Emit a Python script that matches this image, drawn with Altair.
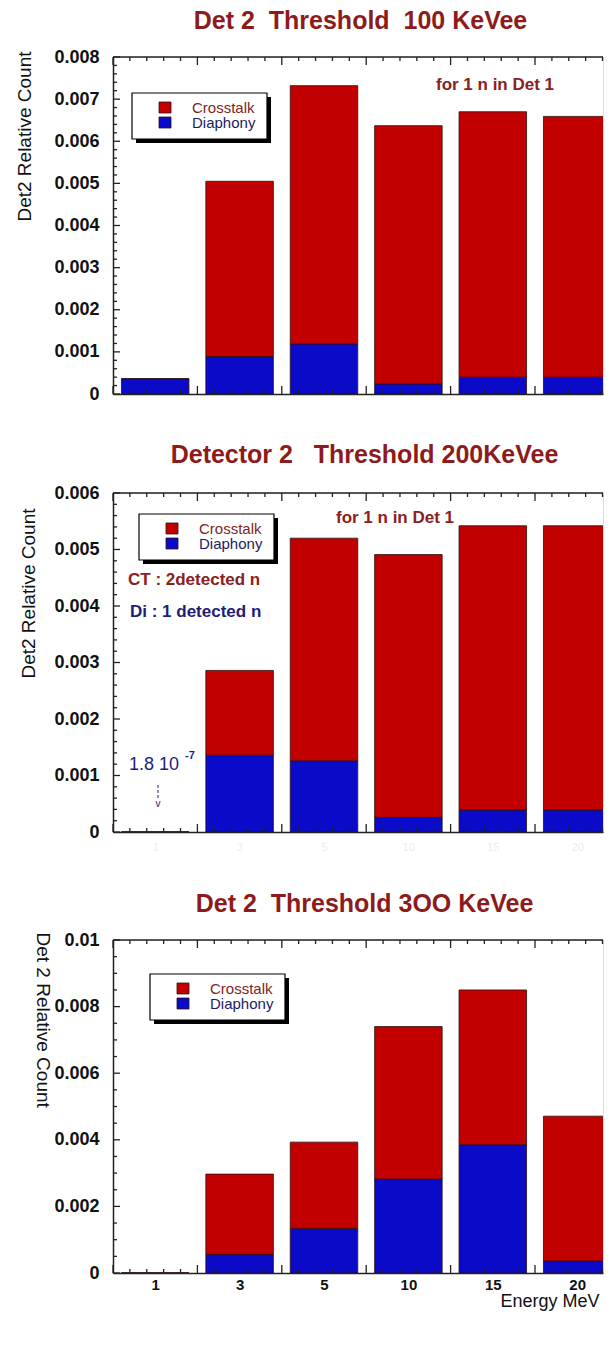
import altair as alt
import pandas as pd

# ---------------- data ----------------
energies = ["1", "3", "5", "10", "15", "20"]
series = ["Crosstalk", "Diaphony"]

panel_titles = [
    "Det 2 \u00a0Threshold \u00a0100 KeVee",
    "Detector 2 \u00a0 Threshold 200KeVee",
    "Det 2 \u00a0Threshold 3OO KeVee",
]
y_titles = ["Det2 Relative Count", "Det2 Relative Count", "Det 2 Relative Count"]
x_title = "Energy MeV"

crosstalk_100 = [0.0, 0.00416, 0.00613, 0.00613, 0.00630, 0.00619]
diaphony_100 = [0.00036, 0.00089, 0.00119, 0.00024, 0.00040, 0.00040]
crosstalk_200 = [0.0, 0.00150, 0.00394, 0.00465, 0.00503, 0.00503]
diaphony_200 = [1.8e-7, 0.00136, 0.00126, 0.00026, 0.00039, 0.00039]
crosstalk_300 = [0.0, 0.00241, 0.00259, 0.00458, 0.00465, 0.00435]
diaphony_300 = [0.0, 0.00056, 0.00134, 0.00282, 0.00385, 0.00036]

y_ticks_100 = [0, 0.001, 0.002, 0.003, 0.004, 0.005, 0.006, 0.007, 0.008]
y_ticks_200 = [0, 0.001, 0.002, 0.003, 0.004, 0.005, 0.006]
y_ticks_300 = [0, 0.002, 0.004, 0.006, 0.008, 0.01]
y_minor_per_major = [5, 5, 4]
x_minor_per_slot = 5

note_det1 = "for 1 n in Det 1"
note_ct = "CT : 2detected n"
note_di = "Di : 1 detected n"
note_value = "1.8 10"
note_exp = "-7"
note_arrow = "v"

# ---------------- style ----------------
RED = "#C20000"
BLUE = "#0A0AC8"
TITLE_RED = "#8E1B1B"
NOTE_RED = "#8A2020"
NAVY = "#1E1E78"
LABEL_COLORS = ["#7E2424", "#1C1C66"]
AX = "#222222"
FONT = "Liberation Sans"
W = 490
STEP = 84.4
XMAX = -0.5 + W / STEP
ONE = pd.DataFrame({"k": [0]})


def text_layer(txt, x, y, size, color, weight="bold", align="left", font=FONT):
    return alt.Chart(pd.DataFrame({"t": [txt]})).mark_text(
        font=font, fontSize=size, fontWeight=weight, color=color,
        align=align, baseline="middle"
    ).encode(text="t:N", x=alt.value(x), y=alt.value(y))


def make_panel(title, title_y, title_dx, ct, di, yticks, nminor, H,
               ytitle, ytitle_kw, legend_pos, extra, xaxis_kind):
    rows = []
    for k, e in enumerate(energies):
        rows.append({"energy": e, "pos": k, "series": "Diaphony", "value": di[k], "layer": 0})
        rows.append({"energy": e, "pos": k, "series": "Crosstalk", "value": ct[k], "layer": 1})
    df = pd.DataFrame(rows)

    xs = alt.Scale(domain=[-0.5, XMAX], nice=False, zero=False)
    ys = alt.Scale(domain=[0, yticks[-1]], nice=False, zero=True)
    cs = alt.Scale(domain=series, range=[RED, BLUE])

    label_expr = "[" + ",".join("'%s'" % e for e in energies) + "][datum.value]"
    common = dict(values=list(range(len(energies))), grid=False, ticks=False, tickSize=0,
                  domainColor=AX, domainWidth=1.5, labelFlush=False, labelOverlap=False)
    if xaxis_kind == "none":
        xaxis = alt.Axis(labels=False, title=None, **common)
    elif xaxis_kind == "ghost":
        xaxis = alt.Axis(labelExpr=label_expr, labelColor="#ededed", labelFont=FONT,
                         labelFontSize=11, labelPadding=9, title=None, **common)
    else:
        xaxis = alt.Axis(labelExpr=label_expr, labelColor="#111111", labelFont=FONT,
                         labelFontSize=15, labelFontWeight="bold", labelPadding=4,
                         title=x_title, titleFont=FONT, titleFontSize=18,
                         titleFontWeight="normal", titleColor="#111111",
                         titleX=486, titleY=28, titleAlign="right",
                         titleBaseline="middle", **common)

    yaxis = alt.Axis(values=yticks, format=".3~f", grid=False, ticks=False, tickSize=0,
                     domainColor=AX, domainWidth=1.5, labelFont=FONT, labelFontSize=18,
                     labelFontWeight="bold", labelColor="#111111", labelPadding=14,
                     labelFlush=False, labelOverlap=False, title=ytitle, titleFont=FONT,
                     titleFontSize=19, titleFontWeight="normal", titleColor="#111111",
                     titleBaseline="middle", **ytitle_kw)

    bars = alt.Chart(df).transform_stack(
        stack="value", groupby=["pos"], as_=["v0", "v1"],
        sort=[alt.SortField("layer", order="ascending")]
    ).transform_calculate(
        x0="datum.pos - 0.4", x1="datum.pos + 0.4"
    ).mark_bar(clip=True, stroke="#2a1010", strokeWidth=0.8).encode(
        x=alt.X("x0:Q", scale=xs, axis=xaxis),
        x2="x1:Q",
        y=alt.Y("v0:Q", scale=ys, axis=yaxis),
        y2="v1:Q",
        color=alt.Color("series:N", scale=cs, legend=None),
    )

    # tick positions (inner ticks like the original plotting program)
    n_slots = len(energies)
    x_major = [k - 0.5 for k in range(n_slots)]
    x_minor = [k - 0.5 + i / x_minor_per_slot for k in range(n_slots)
               for i in range(1, x_minor_per_slot) if k - 0.5 + i / x_minor_per_slot < XMAX]
    ymaj_step = yticks[1] - yticks[0]
    y_minor = [v + i * ymaj_step / nminor for v in yticks[:-1] for i in range(1, nminor)]

    def xt(vals, length, top):
        y0 = 0 if top else H
        y1 = length if top else H - length
        return alt.Chart(pd.DataFrame({"v": vals})).mark_rule(
            color=AX, strokeWidth=1.3
        ).encode(x=alt.X("v:Q", scale=xs), y=alt.value(y0), y2=alt.value(y1))

    def yt(vals, length):
        return alt.Chart(pd.DataFrame({"v": vals})).mark_rule(
            color=AX, strokeWidth=1.3
        ).encode(y=alt.Y("v:Q", scale=ys), x=alt.value(0), x2=alt.value(length))

    border = alt.Chart(ONE).mark_rule(color=AX, strokeWidth=1.5).encode(
        x=alt.value(0), x2=alt.value(W), y=alt.value(0))

    bx, by = legend_pos
    LW, LH = 135, 46
    shadow = alt.Chart(ONE).mark_rect(color="#000000").encode(
        x=alt.value(bx + 4), x2=alt.value(bx + LW + 4),
        y=alt.value(by + 4), y2=alt.value(by + LH + 4))
    box = alt.Chart(ONE).mark_rect(fill="white", stroke="#000000", strokeWidth=1.2).encode(
        x=alt.value(bx), x2=alt.value(bx + LW), y=alt.value(by), y2=alt.value(by + LH))
    legend_layers = [shadow, box]
    for j, s in enumerate(series):
        sdf = pd.DataFrame({"series": [s]})
        legend_layers.append(
            alt.Chart(sdf).mark_rect(stroke="#301010", strokeWidth=0.8).encode(
                x=alt.value(bx + 27), x2=alt.value(bx + 39),
                y=alt.value(by + 9 + 15 * j), y2=alt.value(by + 20 + 15 * j),
                color=alt.Color("series:N", scale=cs, legend=None)))
        legend_layers.append(
            alt.Chart(sdf).mark_text(font=FONT, fontSize=15, align="left",
                                     baseline="middle", color=LABEL_COLORS[j]).encode(
                text="series:N", x=alt.value(bx + 60), y=alt.value(by + 15 + 15 * j)))

    title_layer = text_layer(title, 247.5 + title_dx, title_y, 25, TITLE_RED, align="center")

    layers = [bars,
              xt(x_minor, 4, True), xt(x_major, 8, True),
              xt(x_minor, 4, False), xt(x_major, 8, False),
              yt(y_minor, 4), yt(yticks, 7),
              border] + legend_layers + extra + [title_layer]

    return alt.layer(*layers).properties(width=W, height=H)


p1 = make_panel(
    panel_titles[0], -36, 0, crosstalk_100, diaphony_100, y_ticks_100, y_minor_per_major[0], 337,
    y_titles[0], dict(titleAngle=270, titleAlign="right", titleX=-89, titleY=-6),
    (19, 36), [text_layer(note_det1, 382, 28, 17, NOTE_RED, align="center")], "none")

arrow = alt.Chart(ONE).mark_rule(color=NAVY, strokeDash=[3, 2], strokeWidth=1).encode(
    x=alt.value(45), y=alt.value(292), y2=alt.value(305))

p2 = make_panel(
    panel_titles[1], -38.3, 4, crosstalk_200, diaphony_200, y_ticks_200, y_minor_per_major[1], 339,
    y_titles[1], dict(titleAngle=270, titleAlign="right", titleX=-85, titleY=15),
    (26, 21),
    [text_layer(note_det1, 282, 25, 17, NOTE_RED, align="center"),
     text_layer(note_ct, 15, 87, 17, NOTE_RED),
     text_layer(note_di, 17, 119, 17, NAVY),
     text_layer(note_value, 16, 272, 18, NAVY, weight="normal"),
     text_layer(note_exp, 72, 263, 11, NAVY),
     arrow,
     text_layer(note_arrow, 45, 311, 10, NAVY, weight="normal", align="center")],
    "ghost")

p3 = make_panel(
    panel_titles[2], -36, 4, crosstalk_300, diaphony_300, y_ticks_300, y_minor_per_major[2], 333,
    y_titles[2], dict(titleAngle=90, titleAlign="left", titleX=-71, titleY=-8),
    (37, 34), [], "full")

chart = alt.vconcat(p1, p2, p3, spacing=38).properties(
    padding={"left": 6, "top": 0, "right": 0, "bottom": 0}
).configure_view(stroke="transparent").configure(background="white")

chart.save("out.html", embed_options={"renderer": "svg", "actions": False})
